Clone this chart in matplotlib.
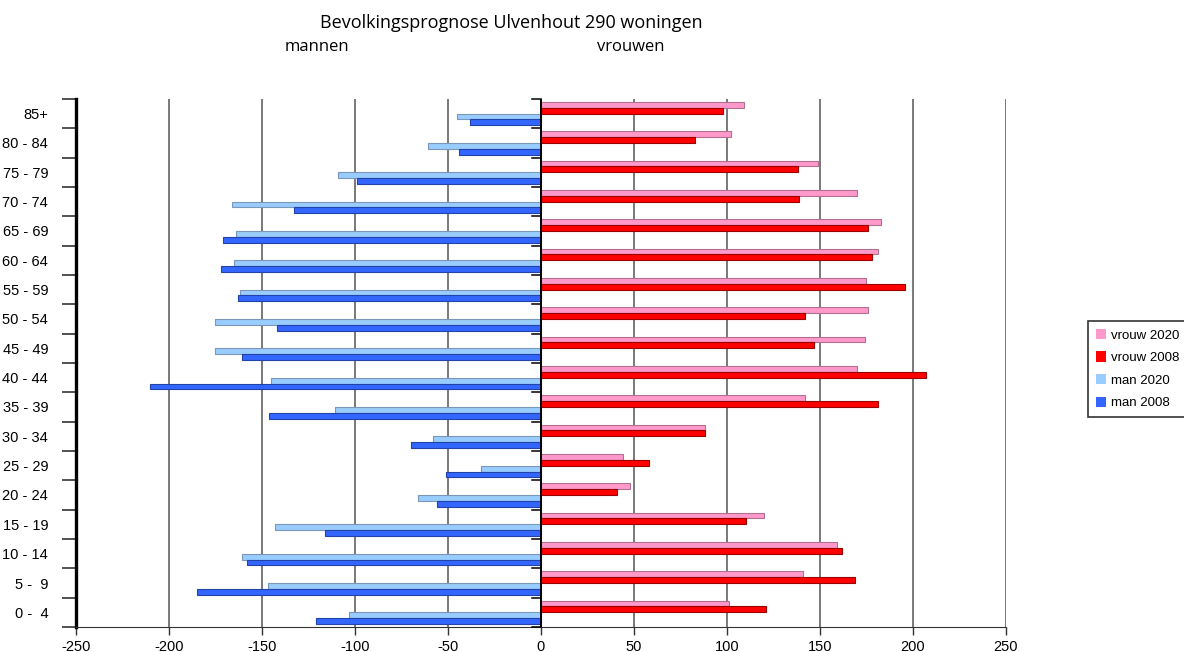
import numpy as np
import matplotlib.pyplot as plt
from matplotlib.patches import Patch

plt.rcParams['font.family'] = ['Liberation Sans', 'DejaVu Sans']
plt.rcParams['axes.unicode_minus'] = False

ages = ["0 -  4", "5 -  9", "10 - 14", "15 - 19", "20 - 24", "25 - 29", "30 - 34",
        "35 - 39", "40 - 44", "45 - 49", "50 - 54", "55 - 59", "60 - 64", "65 - 69",
        "70 - 74", "75 - 79", "80 - 84", "85+"]

man_2008 = [121, 185, 158, 116, 56, 51, 70, 146, 210, 161, 142, 163, 172, 171, 133, 99, 44, 38]
man_2020 = [103, 147, 161, 143, 66, 32, 58, 111, 145, 175, 175, 162, 165, 164, 166, 109, 61, 45]
vrouw_2008 = [121, 169, 162, 110, 41, 58, 88, 181, 207, 147, 142, 196, 178, 176, 139, 138, 83, 98]
vrouw_2020 = [101, 141, 159, 120, 48, 44, 88, 142, 170, 174, 176, 175, 181, 183, 170, 149, 102, 109]

y = np.arange(len(ages))
h = 0.2

fig = plt.figure(figsize=(11.84, 6.52), dpi=100)
ax = fig.add_axes([0.0642, 0.0383, 0.7854, 0.810])

# series: (values, sign, offset, face, edge, label)
series = [
    (vrouw_2020, 1, 0.3, "#FF99CC", "#B07090", "vrouw 2020"),
    (vrouw_2008, 1, 0.1, "#FF0000", "#990000", "vrouw 2008"),
    (man_2020, -1, -0.1, "#99CCFF", "#7A96B8", "man 2020"),
    (man_2008, -1, -0.3, "#3366FF", "#2244AA", "man 2008"),
]
for vals, sign, off, face, edge, lab in series:
    v = sign * np.array(vals)
    ax.barh(y + off, v, height=h, color=face, edgecolor=edge, linewidth=0.8,
            zorder=3, label=lab)

ax.set_xlim(-250, 250)
ax.set_ylim(-0.5, len(ages) - 0.5)
ax.set_xticks(np.arange(-250, 251, 50))
ax.set_yticks(y)
ax.set_yticklabels(ages)
ax.set_yticks(np.arange(-0.5, len(ages), 1), minor=True)
ax.tick_params(axis="y", which="major", length=0, pad=20, labelsize=10.5)
ax.tick_params(axis="y", which="minor", length=10, width=1.2, color="#333333")
ax.tick_params(axis="x", length=6, width=1, labelsize=10.5, color="#333333")

ax.xaxis.grid(True, color="#555555", linewidth=1.1, zorder=0)
for s in ["top", "right"]:
    ax.spines[s].set_visible(False)
ax.spines["left"].set_linewidth(2.4)
ax.spines["bottom"].set_color("#333333")

# zero axis with its own category ticks
ax.axvline(0, color="black", linewidth=1.4, zorder=4)
for b in np.arange(-0.5, len(ages), 1):
    ax.plot([-5, 0], [b, b], color="black", linewidth=1.1, zorder=4,
            clip_on=False)

fig.text(0.432, 0.965, "Bevolkingsprognose Ulvenhout 290 woningen",
         ha="center", va="center", fontsize=13, family="Open Sans")
fig.text(0.268, 0.928, "mannen", ha="center", va="center", fontsize=12,
         family="Open Sans")
fig.text(0.533, 0.928, "vrouwen", ha="center", va="center", fontsize=12,
         family="Open Sans")

handles = [Patch(facecolor=s[3], edgecolor="none", label=s[5]) for s in series]
leg = fig.legend(handles=handles, loc="center left", bbox_to_anchor=(0.913, 0.434),
                 frameon=True, fancybox=False, fontsize=9.5, handlelength=0.8,
                 handleheight=0.8, handletextpad=0.4, labelspacing=0.75,
                 borderpad=0.6)
leg.get_frame().set_edgecolor("black")
leg.get_frame().set_linewidth(1.2)

fig.savefig("out.png", dpi=100)
